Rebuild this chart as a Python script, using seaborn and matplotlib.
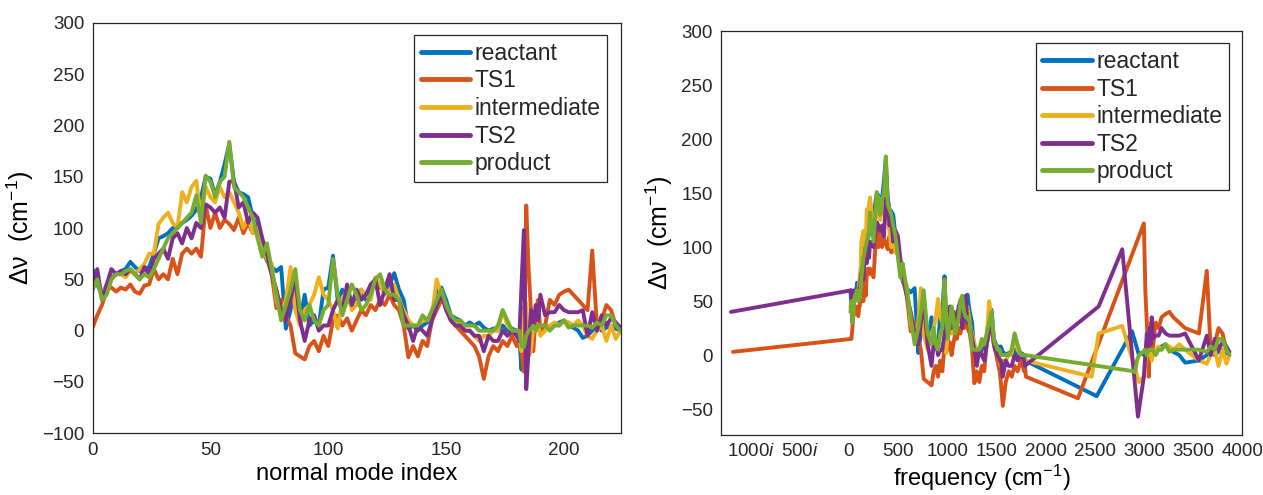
import numpy as np
import pandas as pd
import matplotlib
matplotlib.use("Agg")
import matplotlib.pyplot as plt
import seaborn as sns

# ---------------- data ----------------
states = ["reactant", "TS1", "intermediate", "TS2", "product"]
colors = ["#0072BD", "#D95319", "#EDB120", "#7E2F8E", "#77AC30"]

# sampled normal-mode indices
idx_low = list(range(0, 181, 2))
idx_high = list(range(181, 191))
idx_tail = list(range(192, 225, 2))

# approximate frequency (cm-1) of sampled modes 0..180
freq_low = [15, 25, 35, 45, 52, 60, 68, 75, 82, 88,
            95, 103, 110, 118, 125, 136, 147, 158, 170, 181,
            192, 204, 215, 250, 283, 300, 318, 337, 356, 375,
            394, 412, 431, 450, 474, 498, 522, 547, 588, 628,
            668, 705, 732, 760, 800, 840, 862, 884, 906, 928,
            950, 972, 990, 1008, 1026, 1044, 1062, 1080, 1098, 1116,
            1134, 1152, 1170, 1188, 1205, 1229, 1252, 1276, 1301, 1326,
            1351, 1376, 1401, 1426, 1450, 1462, 1474, 1486, 1498, 1510,
            1521, 1533, 1545, 1565, 1595, 1625, 1655, 1685, 1715, 1750,
            1783]
freq_tail = [3090, 3120, 3150, 3180, 3220, 3260, 3300, 3360, 3420, 3560,
             3640, 3680, 3720, 3760, 3800, 3840, 3870]
ts1_imag_freq = -1180   # 1180i cm-1
ts2_imag_freq = -1200   # 1200i cm-1

reactant_low = [60, 45, 35, 45, 52, 55, 58, 60, 67, 62,
                58, 60, 62, 75, 90, 92, 95, 100, 100, 105,
                108, 112, 118, 130, 150, 148, 132, 145, 162, 182,
                145, 135, 133, 130, 110, 100, 80, 68, 62, 58,
                62, 2, 20, 50, 10, 35, 5, 10, 5, 40,
                42, 73, 30, 40, 30, 25, 35, 40, 30, 40,
                45, 42, 40, 45, 56, 40, 30, 2, 5, 0,
                5, 8, 15, 40, 42, 30, 15, 12, 10, 5,
                8, 5, 8, 3, 0, 2, 0, 5, 0, 2,
                0]
reactant_high = [-5, -38, 22, 0, 2, 0, 5, 0, 5, 3]
reactant_high_freq = [1790, 2520, 2880, 2950, 2980, 3000, 3020, 3040, 3060, 3075]
reactant_tail = [5, 3, 5, 8, 10, 5, 3, 0, -7, -5, 0, 5, 0, 3, 5, 2, 0]

ts1_low = [3, 15, 25, 40, 42, 38, 42, 40, 45, 38,
           36, 44, 45, 60, 50, 55, 50, 70, 55, 75,
           80, 75, 80, 72, 122, 100, 115, 100, 108, 104,
           98, 110, 95, 105, 95, 100, 80, 70, 55, 22,
           30, 15, 5, -22, -25, -28, -15, -10, -20, -5,
           -15, 10, 15, 5, 12, 0, 10, 20, 15, 25,
           20, 30, 25, 35, 25, 20, 5, -26, -15, -25,
           -10, -15, 10, 20, 30, 25, 10, 5, 0, -5,
           -10, -15, -25, -47, -25, -15, -20, -10, -15, -5,
           -15]
ts1_high = [-10, -20, -40, 122, 60, 20, -20, 15, 30, 0]
ts1_high_freq = [1790, 1800, 2330, 3000, 3015, 3035, 3050, 3060, 3075, 3085]
ts1_tail = [5, 30, 25, 35, 38, 40, 35, 30, 25, 20, 78, 5, 10, 25, 20, 5, 3]

intermediate_low = [45, 50, 35, 45, 50, 55, 55, 52, 58, 55,
                    60, 65, 75, 75, 104, 110, 115, 105, 100, 135,
                    125, 140, 146, 110, 140, 130, 125, 140, 130, 135,
                    125, 115, 100, 110, 95, 100, 80, 70, 65, 30,
                    15, 30, 62, 20, 5, 20, 25, 35, 52, 35,
                    30, 20, 2, 30, 40, 20, 25, 40, 35, 30,
                    52, 45, 35, 40, 45, 30, 20, 10, 5, 5,
                    10, 10, 15, 50, 35, 25, 10, 8, 5, 0,
                    0, -5, -10, -5, -5, 0, 0, 20, 5, 0,
                    -5]
intermediate_high = [-5, -20, 20, 27, -25, -20, 5, 0, 5, -5]
intermediate_high_freq = [1790, 2470, 2540, 2780, 2950, 3000, 3030, 3050, 3065, 3080]
intermediate_tail = [0, 5, 8, 5, 10, 8, 5, 10, 5, -5, -8, 0, 5, -10, 5, -8, 0]

ts2_low = [40, 60, 30, 45, 60, 55, 58, 55, 60, 55,
           50, 62, 55, 70, 75, 80, 70, 90, 95, 85,
           100, 90, 105, 100, 123, 120, 115, 120, 110, 145,
           146, 120, 125, 105, 115, 110, 90, 75, 55, 40,
           20, 10, 30, 52, 10, -10, 10, 15, 0, 5,
           5, 20, 30, 20, 45, 25, 40, 30, 35, 45,
           50, 25, 40, 55, 30, 30, 15, 5, -10, 5,
           0, -5, 10, 25, 35, 20, 10, 5, 5, 0,
           0, -5, -5, -20, -5, -10, -10, 0, -5, 0,
           -5]
ts2_high = [-10, 45, 98, -57, -20, 20, 5, 25, 10, 35]
ts2_high_freq = [1790, 2540, 2780, 2940, 3000, 3030, 3045, 3060, 3070, 3080]
ts2_tail = [15, 18, 18, 25, 20, 18, 18, 18, 20, -5, 18, 0, 15, 5, 12, 8, 3]

product_low = [40, 50, 30, 35, 50, 55, 55, 58, 60, 55,
               50, 55, 52, 60, 70, 80, 90, 95, 100, 105,
               110, 115, 132, 105, 151, 145, 130, 145, 150, 184,
               140, 135, 130, 120, 110, 90, 72, 85, 60, 35,
               10, 25, 40, 60, 20, 10, 25, 10, 5, 20,
               25, 70, 35, 15, 30, 45, 35, 20, 25, 35,
               50, 55, 40, 35, 35, 30, 5, 5, 5, 5,
               15, 10, 20, 30, 40, 25, 15, 10, 10, 5,
               5, 5, 0, 0, 0, 0, 5, 20, 10, 0,
               0]
product_high = [0, -15, -16, -5, 0, 2, 5, 0, 5, 5]
product_high_freq = [1790, 2900, 2910, 2930, 2950, 2980, 3010, 3030, 3050, 3070]
product_tail = [5, 0, 5, 5, 10, 3, 5, 5, 5, 5, 3, 8, 5, 15, 15, 5, 0]

x_ticks_right = [-1000, -500, 0, 500, 1000, 1500, 2000, 2500, 3000, 3500, 4000]
x_ticklabels_right = ["1000$\\mathit{i}$", "500$\\mathit{i}$", "0", "500", "1000", "1500",
                      "2000", "2500", "3000", "3500", "4000"]

# ---------------- assemble ----------------
series = {
    "reactant": (reactant_low, reactant_high, reactant_tail, freq_low, reactant_high_freq),
    "TS1": (ts1_low, ts1_high, ts1_tail, [ts1_imag_freq] + freq_low[1:], ts1_high_freq),
    "intermediate": (intermediate_low, intermediate_high, intermediate_tail, freq_low, intermediate_high_freq),
    "TS2": (ts2_low, ts2_high, ts2_tail, [ts2_imag_freq] + freq_low[1:], ts2_high_freq),
    "product": (product_low, product_high, product_tail, freq_low, product_high_freq),
}
rows = []
modes = idx_low + idx_high + idx_tail
for st in states:
    lo, hi, tl, flo, fhi = series[st]
    vals = lo + hi + tl
    freqs = flo + fhi + freq_tail
    for m, v, f in zip(modes, vals, freqs):
        rows.append({"state": st, "mode": m, "dnu": v, "freq": f})
df = pd.DataFrame(rows)

# ---------------- style ----------------
sns.set_theme(style="white")
plt.rcParams["font.family"] = ["Liberation Sans", "DejaVu Sans"]
plt.rcParams["mathtext.fontset"] = "custom"
plt.rcParams["mathtext.rm"] = "Liberation Sans"
plt.rcParams["mathtext.it"] = "Liberation Sans:italic"
plt.rcParams["mathtext.default"] = "regular"

palette = dict(zip(states, colors))
axcol = "#262626"

fig = plt.figure(figsize=(12.63, 4.95), dpi=100)
ax1 = fig.add_axes([0.0733, 0.1246, 0.418, 0.8295])
ax2 = fig.add_axes([0.571, 0.1212, 0.4125, 0.816])

sns.lineplot(data=df, x="mode", y="dnu", hue="state", hue_order=states, palette=palette,
             estimator=None, sort=False, lw=2.8, ax=ax1)
sns.lineplot(data=df, x="freq", y="dnu", hue="state", hue_order=states, palette=palette,
             estimator=None, sort=False, lw=2.8, ax=ax2)

ax1.set_xlim(0, 224)
ax1.set_ylim(-100, 300)
ax1.set_xticks([0, 50, 100, 150, 200])
ax1.set_yticks(list(range(-100, 301, 50)))
ax1.set_xlabel("normal mode index", fontsize=17, color="black", labelpad=3)

ax2.set_xlim(-1300, 4000)
ax2.set_ylim(-74, 300)
ax2.set_xticks(x_ticks_right)
ax2.set_xticklabels(x_ticklabels_right)
ax2.set_yticks(list(range(-50, 301, 50)))
ax2.set_xlabel("frequency (cm$^{-1}$)", fontsize=17, color="black", labelpad=2)

for ax in (ax1, ax2):
    ax.set_ylabel("Δν  (cm$^{-1}$)", fontsize=18, color="black", labelpad=4)
    ax.tick_params(axis="both", length=0, labelsize=13.5, labelcolor=axcol, pad=6)
    for sp in ax.spines.values():
        sp.set_visible(True)
        sp.set_color(axcol)
        sp.set_linewidth(0.9)
    handles, labels = ax.get_legend_handles_labels()
    leg = ax.legend(handles, labels, loc="upper right", bbox_to_anchor=(0.975, 0.97),
                    fontsize=16.5, frameon=True, fancybox=False, framealpha=1,
                    edgecolor=axcol, handlelength=2.15, handletextpad=0.2,
                    labelspacing=0.2, borderpad=0.3, borderaxespad=0)
    leg.get_frame().set_linewidth(0.9)
    for h in leg.get_lines():
        h.set_linewidth(3.5)

fig.savefig("out.png", dpi=100)
